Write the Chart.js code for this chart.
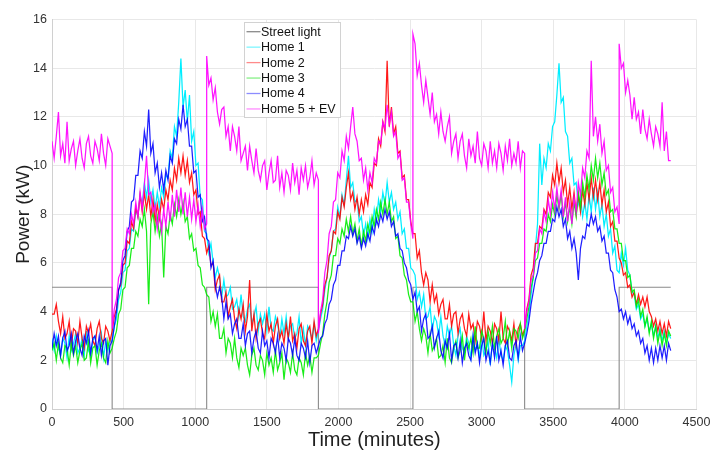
<!DOCTYPE html>
<html>
<head>
<meta charset="utf-8">
<title>Power (kW)</title>
<script src="https://cdn.jsdelivr.net/npm/chart.js@4.4.1/dist/chart.umd.min.js"></script>
<style>
  html, body { margin: 0; padding: 0; background: #ffffff; }
  #wrap { width: 710px; height: 450px; position: relative; }
</style>
</head>
<body>
<div id="wrap"><canvas id="chart" width="710" height="450"></canvas></div>
<script>
// ---- data -------------------------------------------------------------
const STEP = 15;                       // minutes between samples (0 .. 4320)
const xTicks = [0, 500, 1000, 1500, 2000, 2500, 3000, 3500, 4000, 4500];
const yTicks = [0, 2, 4, 6, 8, 10, 12, 14, 16];
const seriesNames = ['Street light', 'Home 1', 'Home 2', 'Home 3', 'Home 4', 'Home 5 + EV'];

// street light: on (5 kW) at night, off during the day
const streetTimes  = [0, 420, 420, 1080, 1080, 1860, 1860, 2520, 2520, 3300, 3300, 3960, 3960, 4320];
const streetValues = [5, 5,   0,   0,    5,    5,    0,    0,    5,    5,    0,    0,    5,    5];

const home1 = [
  2.9,2.4,3.0,2.5,2.2,2.9,2.7,2.1,3.0,2.4,2.7,3.1,2.3,2.5,2.9,2.2,3.2,2.4,2.2,2.8,3.0,2.3,2.6,3.1,2.1,2.8,2.4,2.8,
  2.8,3.4,3.7,4.5,4.8,5.6,5.7,6.5,6.6,7.4,7.3,8.2,7.9,8.8,8.4,9.3,8.7,9.4,8.5,9.0,8.2,8.9,8.3,9.1,8.7,9.6,9.5,10.6,10.3,11.6,11.2,12.6,14.4,12.4,13.1,11.8,12.9,11.0,11.4,10.0,10.1,8.7,8.6,7.3,
  7.2,6.4,6.8,6.0,5.4,5.8,5.4,4.6,5.3,4.6,4.7,5.0,4.1,4.2,4.5,3.8,4.7,3.8,3.6,4.1,4.3,3.5,3.8,4.2,3.2,3.9,3.5,3.9,3.2,4.2,3.3,3.2,3.8,3.5,2.9,3.7,3.1,3.8,2.9,3.4,3.5,2.9,3.1,3.8,2.7,3.3,2.6,3.4,3.2,2.9,3.5,2.8,
  3.2,3.7,4.1,4.9,5.4,6.2,6.5,7.3,7.4,8.3,7.9,8.8,8.4,9.4,10.4,9.1,9.3,8.5,8.6,7.7,7.9,7.1,7.6,7.0,7.8,7.3,8.2,7.7,8.6,8.1,8.9,8.4,9.3,8.5,8.9,8.2,8.5,7.8,8.1,7.2,7.4,6.6,6.6,5.8,
  5.7,5.5,4.5,4.8,4.2,4.7,3.7,3.8,4.2,3.2,3.8,3.6,3.0,3.8,3.0,2.6,3.4,3.0,3.4,2.6,2.2,3.0,3.3,2.5,2.3,3.0,2.7,2.1,3.0,2.4,2.7,2.1,3.0,2.2,2.4,2.8,1.8,2.7,2.5,2.1,2.9,2.2,2.0,2.6,2.4,1.8,1.1,2.2,2.7,2.0,2.6,2.6,
  2.8,3.4,3.9,4.7,5.4,6.6,7.6,10.9,9.2,10.3,9.9,10.9,10.6,11.6,11.8,12.9,14.2,12.6,12.8,11.4,11.2,10.1,10.3,9.2,9.3,8.4,8.7,7.9,8.5,7.8,8.8,8.1,9.1,8.2,8.9,7.9,8.4,7.5,8.0,7.1,7.4,6.4,6.7,5.7,
  5.6,6.4,5.9,6.6,5.7,5.5,4.8,4.7,4.1,4.3,3.7,3.9,3.4,3.7,3.2,3.5,3.0,3.4,2.9,3.3,2.8,3.2,2.7,3.1,2.9
];

const home2 = [
  3.9,3.9,4.3,3.6,3.1,3.8,2.9,3.1,3.6,2.6,3.3,3.2,2.7,3.6,2.9,2.5,3.4,3.1,3.5,2.8,2.6,3.3,3.6,2.9,2.7,3.4,3.2,2.8,
  3.2,3.8,4.1,4.9,5.1,5.9,6.0,6.9,6.8,7.7,7.4,8.3,7.9,8.8,8.1,8.9,8.2,8.8,7.9,8.6,7.7,8.4,7.8,8.6,8.2,9.0,8.6,9.4,9.0,9.9,9.4,10.3,9.7,10.4,9.6,10.2,9.3,9.7,8.8,9.0,8.0,8.1,7.1,7.0,
  6.4,6.7,5.9,6.0,4.9,5.3,5.5,4.4,4.4,4.8,3.8,4.2,4.5,3.7,3.3,4.1,3.7,4.3,3.2,3.8,5.3,3.2,3.9,2.9,3.5,3.7,3.1,2.9,3.9,3.2,3.5,2.7,3.4,3.7,2.9,3.2,2.7,3.5,2.9,3.8,2.8,3.1,2.5,3.3,3.5,2.8,2.6,3.2,3.4,2.7,3.6,3.0,
  3.3,3.9,4.3,5.1,5.4,6.3,6.5,7.3,7.2,8.1,7.8,8.7,8.3,9.1,9.7,8.6,8.9,8.2,8.7,8.0,8.6,8.1,8.8,8.4,9.3,9.1,10.1,10.0,11.1,10.8,11.8,11.4,14.3,11.6,12.4,11.3,11.6,10.5,10.6,9.5,9.6,8.6,8.6,7.7,
  7.2,7.2,6.2,6.5,5.6,5.1,5.6,5.3,4.4,5.1,4.4,4.7,3.9,4.3,4.5,3.7,3.7,4.3,3.4,3.9,4.0,3.1,3.7,3.9,3.3,3.0,3.9,3.3,3.5,2.8,3.6,3.4,2.9,4.0,2.8,3.4,3.2,2.7,3.5,3.3,2.8,4.0,2.9,2.7,3.4,3.2,2.8,3.5,2.6,3.3,3.5,3.0,
  3.3,4.1,4.5,5.5,5.8,6.8,6.8,7.5,7.4,8.2,8.0,8.9,8.7,9.6,9.2,10.1,9.3,9.9,8.9,9.4,8.4,9.1,8.2,8.9,8.0,8.8,8.1,9.0,8.4,9.3,8.6,9.5,8.7,9.4,8.6,9.3,8.4,9.0,8.1,8.5,7.5,7.7,6.9,6.9,
  6.2,6.0,5.5,5.6,5.0,5.1,4.6,4.8,4.3,4.7,4.3,4.6,4.2,4.6,4.0,3.8,3.4,3.7,3.2,3.6,3.1,3.5,3.0,3.6,3.3
];

const home3 = [
  2.4,2.7,2.0,2.7,2.1,1.9,2.6,2.5,1.8,2.7,2.2,2.6,1.9,2.4,2.7,2.0,2.1,2.8,1.9,2.5,2.6,1.8,2.4,2.7,2.1,1.9,2.8,2.3,
  2.5,2.9,3.2,3.9,4.1,4.9,5.0,5.8,5.9,6.6,6.6,7.3,7.1,7.8,7.5,8.2,7.3,4.3,7.6,8.1,7.3,7.9,7.1,7.6,5.4,7.5,7.2,8.0,7.6,8.4,7.9,8.6,8.0,8.5,7.7,7.9,7.0,7.2,6.5,6.6,5.9,5.8,5.1,5.0,
  4.7,4.6,3.6,4.0,3.4,3.9,2.9,2.9,3.3,2.3,2.9,2.7,2.1,2.9,2.1,1.7,2.5,2.2,2.5,1.8,1.4,2.2,2.5,1.8,1.6,2.2,2.0,1.4,2.3,1.8,2.1,1.5,2.4,1.6,1.9,2.3,1.2,2.1,1.9,1.5,2.3,1.6,1.4,2.1,1.9,1.4,2.3,1.8,2.2,1.5,2.1,2.1,
  2.2,2.7,3.1,3.9,4.4,5.2,5.5,6.3,6.3,7.0,6.8,7.4,7.1,7.8,7.3,7.9,7.2,7.6,6.9,7.4,6.7,7.3,6.9,7.6,7.2,7.9,7.5,8.2,7.8,8.5,8.0,8.6,8.0,8.5,7.7,7.9,7.0,7.1,6.3,6.2,5.5,5.3,4.7,4.4,
  4.4,3.6,4.0,3.3,2.8,3.3,3.0,2.3,3.1,2.4,2.6,2.9,2.1,2.2,2.6,1.9,2.9,2.1,1.9,2.5,2.8,2.1,2.4,3.0,2.0,2.8,2.5,2.9,2.3,3.4,2.5,2.5,3.2,2.9,2.3,3.2,2.7,3.4,2.5,3.0,3.3,2.7,2.9,3.6,2.6,3.2,2.5,3.3,3.2,2.9,3.5,2.9,
  3.2,3.7,4.2,5.0,5.4,6.1,6.2,6.8,6.8,7.4,7.3,8.0,7.7,8.4,8.0,8.8,8.2,8.8,7.9,8.5,7.7,8.3,7.6,8.5,7.9,8.9,8.3,9.3,8.7,9.6,9.0,10.0,9.4,10.3,9.5,10.1,9.2,9.7,8.8,9.0,8.1,8.2,7.4,7.4,
  6.8,6.8,6.1,6.1,5.4,5.5,4.8,4.9,4.2,4.5,3.8,4.1,3.4,3.8,3.1,3.6,2.9,3.4,2.7,3.2,2.6,3.1,2.6,3.2,3.0
];

const home4 = [
  2.5,3.1,2.6,3.0,2.2,2.9,3.2,2.4,2.6,3.1,2.3,2.8,3.1,2.5,2.2,3.0,2.7,3.2,2.3,2.9,3.0,2.4,3.0,2.2,2.8,2.9,1.8,2.6,
  2.8,3.4,4.0,4.9,5.2,6.1,6.3,7.3,7.5,8.5,8.6,9.6,9.6,10.6,10.3,11.4,10.8,12.3,10.5,10.9,9.7,10.1,9.1,9.7,9.0,9.8,9.4,10.4,10.1,11.1,10.9,11.9,11.5,12.5,11.6,11.9,10.8,10.8,9.7,9.8,8.7,8.8,7.7,7.9,
  7.0,6.9,5.8,6.1,5.1,4.6,5.0,4.6,3.7,4.4,3.7,3.9,3.1,3.5,3.7,2.9,2.9,3.5,2.6,3.1,3.2,2.3,2.9,3.2,2.5,2.3,3.2,2.6,2.8,2.1,2.9,2.7,2.3,3.0,2.1,2.7,2.5,2.0,2.9,2.7,2.2,2.9,2.2,2.0,2.7,2.5,2.1,2.8,1.9,2.6,2.7,2.3,
  2.6,2.9,3.0,3.5,3.7,4.3,4.5,5.1,5.3,5.9,5.9,6.5,6.5,7.1,7.0,7.5,7.1,7.4,6.8,7.1,6.6,7.0,6.7,7.2,6.9,7.5,7.2,7.8,7.5,8.0,7.7,8.2,7.8,8.1,7.5,7.7,7.1,7.2,6.6,6.5,6.0,5.8,5.3,5.1,
  4.5,4.8,4.0,4.2,3.2,3.7,3.9,2.9,3.0,3.4,2.5,2.9,3.2,2.4,2.1,2.8,2.5,3.1,2.0,2.6,2.7,2.1,2.8,1.9,2.5,2.7,2.2,2.0,3.0,2.3,2.7,1.9,2.6,2.9,2.0,2.4,1.9,2.7,2.1,3.0,2.0,2.4,1.8,2.6,2.8,2.1,2.0,2.6,2.8,2.1,3.0,2.4,
  2.7,3.1,3.6,4.3,4.8,5.3,5.6,6.1,6.3,6.8,6.8,7.3,7.3,7.8,7.7,8.3,7.9,8.2,7.5,7.8,7.0,7.3,6.6,7.0,6.4,5.3,6.6,7.1,7.0,7.6,7.5,8.0,7.6,7.9,7.3,7.5,6.9,7.1,6.4,6.4,5.7,5.6,4.9,4.6,
  4.0,4.1,3.7,4.0,3.5,3.8,3.3,3.5,3.0,3.2,2.7,2.9,2.3,2.6,2.0,2.5,1.9,2.5,2.0,2.6,2.1,2.6,2.0,2.7,2.4
];

// value after each jump is stored in home5; the value just before it in home5Before
const home5 = [
  11.0,10.3,11.2,12.2,10.4,10.9,10.1,11.8,10.2,10.7,11.0,10.0,10.6,11.1,10.3,9.9,10.9,11.2,10.4,10.1,11.0,10.7,10.2,11.3,10.5,10.0,11.1,10.8,
  3.3,4.1,4.5,5.4,5.6,6.5,6.6,7.4,7.2,8.0,7.6,8.5,7.9,8.9,8.2,9.2,10.4,8.8,8.9,8.1,8.4,7.4,8.1,7.3,8.2,7.5,8.5,7.7,8.8,7.9,9.0,8.1,9.1,8.0,8.9,7.9,8.7,7.8,8.6,7.7,8.4,7.5,8.2,7.4,
  14.5,13.3,13.6,12.7,13.2,12.2,11.7,12.3,12.4,11.2,11.6,10.6,11.6,11.2,10.6,11.6,10.2,10.5,10.8,9.8,10.8,10.2,9.7,10.7,9.8,9.4,10.0,10.2,9.0,9.7,10.2,9.3,9.4,10.4,9.1,9.7,8.9,9.8,9.6,9.0,10.1,9.3,9.8,8.8,9.9,9.4,10.0,9.1,9.5,10.2,9.2,9.7,
  3.1,4.0,4.5,5.6,6.1,7.2,7.5,8.5,8.6,9.7,9.5,10.6,10.2,11.2,10.7,11.6,12.4,11.3,11.0,10.2,10.3,9.4,9.9,9.0,9.7,9.3,10.3,10.1,11.0,10.9,11.8,11.5,12.5,11.7,12.2,11.2,11.4,10.3,10.5,9.4,9.5,8.5,8.5,7.6,
  15.4,15.0,13.7,14.2,13.3,12.6,13.5,12.8,12.1,13.0,11.8,12.1,11.3,12.2,11.4,11.0,11.6,12.0,10.5,11.0,11.3,10.3,11.0,11.3,10.4,9.9,11.1,10.4,10.8,10.1,11.4,10.3,10.0,10.9,10.6,9.9,11.0,10.1,10.6,9.9,10.9,10.5,9.8,10.8,10.2,11.1,10.0,10.5,10.1,11.0,9.9,10.6,
  3.3,4.0,4.4,5.3,5.5,6.4,6.5,7.4,7.2,8.1,7.7,8.6,8.0,8.9,8.2,9.1,8.3,9.0,7.9,8.7,7.7,8.5,7.6,8.7,8.1,9.3,8.8,9.9,9.5,10.6,10.3,14.3,11.2,12.0,11.0,11.7,10.5,11.0,9.8,10.0,8.9,9.1,8.1,8.3,
  15.0,14.0,14.2,13.0,13.5,12.9,11.9,12.8,11.9,12.2,11.3,12.3,11.5,11.1,11.9,11.3,10.8,11.6,11.3,10.8,12.6,10.6,11.4,10.2,10.2
];
const home5JumpTimes = [420, 1080, 1860, 2520, 3300, 3960];
const home5Before    = [10.5, 7.6, 9.4, 7.0, 10.5, 7.6];

// ---- build point lists ------------------------------------------------
const sampleTimes = home1.map((_, i) => i * STEP);
const onGrid = vals => vals.map((v, i) => ({ x: sampleTimes[i], y: v }));
const streetPoints = streetTimes.map((t, i) => ({ x: t, y: streetValues[i] }));
const home5Points = [];
home5.forEach((v, i) => {
  const t = sampleTimes[i];
  const j = home5JumpTimes.indexOf(t);
  if (j >= 0) home5Points.push({ x: t, y: home5Before[j] });
  home5Points.push({ x: t, y: v });
});

// ---- styles -----------------------------------------------------------
const FONT = '"Liberation Sans", Arial, Helvetica, sans-serif';
const lineColors   = ['#8a8a8a', 'rgb(0,238,255)', 'rgba(255,0,0,0.9)', 'rgba(0,235,0,0.9)', 'rgba(0,0,255,0.88)', 'rgba(255,0,255,0.92)'];
const legendColors = ['#8a8a8a', '#7ff6ff', '#ff8a8a', '#86f086', '#8c8cff', '#ff8cff'];
const seriesPoints = [streetPoints, onGrid(home1), onGrid(home2), onGrid(home3), onGrid(home4), home5Points];

const datasets = seriesPoints.map((pts, i) => ({
  label: seriesNames[i],
  data: pts,
  borderColor: lineColors[i],
  borderWidth: i === 0 ? 1.1 : 1.25,
  pointRadius: 0,
  tension: 0,
  fill: false,
  order: seriesNames.length - i      // later homes drawn on top
}));

// axis titles and boxed legend drawn inside the plot
const decorations = {
  id: 'decorations',
  afterDraw(chart) {
    const { ctx, chartArea: a } = chart;
    ctx.save();
    ctx.fillStyle = '#1f1f1f';
    ctx.font = '20px ' + FONT;
    ctx.textAlign = 'center';
    ctx.textBaseline = 'alphabetic';
    ctx.fillText('Time (minutes)', (a.left + a.right) / 2, 446);

    ctx.save();
    ctx.translate(28.5, (a.top + a.bottom) / 2);
    ctx.rotate(-Math.PI / 2);
    ctx.font = '19px ' + FONT;
    ctx.fillText('Power (kW)', 0, 0);
    ctx.restore();

    // legend box
    const bx = 244.5, by = 22.5, bw = 96, bh = 95;
    ctx.fillStyle = '#ffffff';
    ctx.fillRect(bx, by, bw, bh);
    ctx.strokeStyle = '#d2d2d2';
    ctx.lineWidth = 1;
    ctx.strokeRect(bx, by, bw, bh);
    ctx.font = '12.5px ' + FONT;
    ctx.textAlign = 'left';
    ctx.textBaseline = 'middle';
    seriesNames.forEach((name, i) => {
      const y = 31.7 + i * 15.45;
      ctx.strokeStyle = legendColors[i];
      ctx.lineWidth = 1.3;
      ctx.beginPath();
      ctx.moveTo(246.5, y);
      ctx.lineTo(260.5, y);
      ctx.stroke();
      ctx.fillStyle = '#111111';
      ctx.fillText(name, 261, y + 0.5);
    });
    ctx.restore();
  }
};

new Chart(document.getElementById('chart'), {
  type: 'line',
  data: { datasets },
  options: {
    responsive: false,
    animation: false,
    events: [],
    layout: { padding: { left: 0, right: 13.5, top: 19.5, bottom: 0 } },
    plugins: { legend: { display: false }, tooltip: { enabled: false } },
    scales: {
      x: {
        type: 'linear',
        min: 0, max: 4500,
        afterBuildTicks: s => { s.ticks = xTicks.map(v => ({ value: v })); },
        afterFit: s => { s.height = 41; s.paddingLeft = 0; s.paddingRight = 0; },
        ticks: { padding: 6, color: '#333333', font: { family: FONT, size: 12.5 }, maxRotation: 0, autoSkip: false,
                 callback: v => String(v) },
        grid: { color: '#e8e8e8', drawTicks: false },
        border: { color: '#d0d0d0' }
      },
      y: {
        type: 'linear',
        min: 0, max: 16,
        afterBuildTicks: s => { s.ticks = yTicks.map(v => ({ value: v })); },
        afterFit: s => { s.width = 52; s.paddingTop = 0; s.paddingBottom = 0; },
        ticks: { padding: 5, color: '#333333', font: { family: FONT, size: 12.5 }, callback: v => String(v) },
        grid: { color: '#e8e8e8', drawTicks: false },
        border: { color: '#d0d0d0' }
      }
    }
  },
  plugins: [decorations]
});
</script>
</body>
</html>
